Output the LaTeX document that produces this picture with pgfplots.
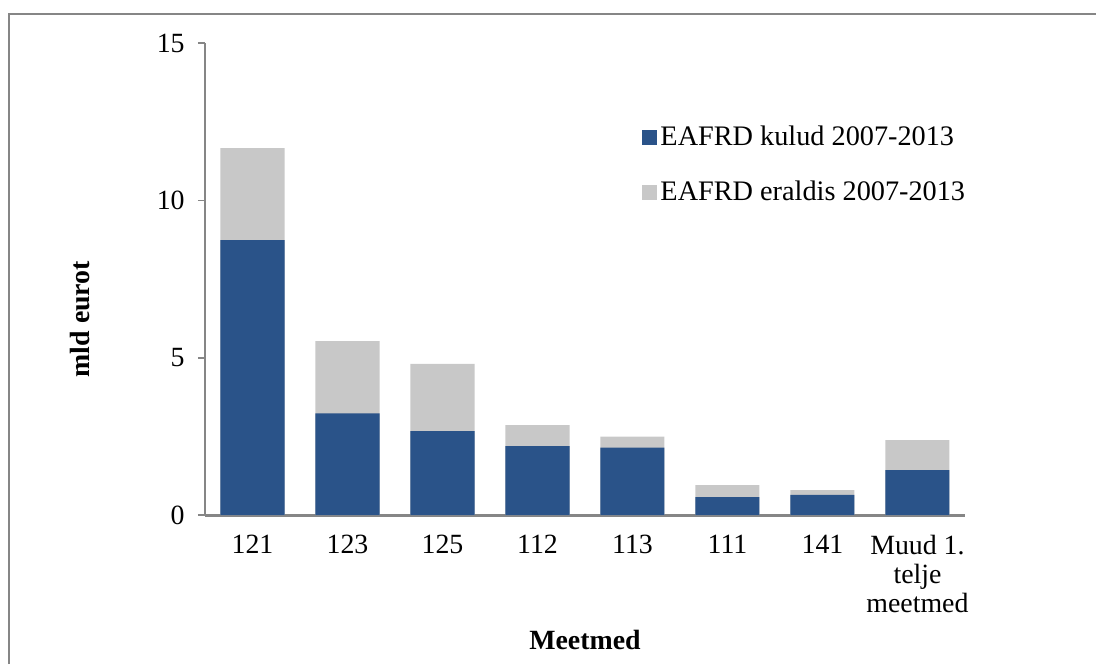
\documentclass[12pt,border=0pt]{standalone}
\usepackage{fontspec}
\setmainfont{Liberation Serif}
\usepackage{pgfplots}
\pgfplotsset{compat=1.18}
\definecolor{kulud}{HTML}{2A5389}
\definecolor{eraldis}{HTML}{C8C8C8}
\definecolor{axgray}{HTML}{868686}

\begin{document}
\begin{tikzpicture}
\begin{axis}[
    name=ax,
    scale only axis,
    width=354.9pt, height=220.4pt,
    xmin=-0.5, xmax=7.5, ymin=0, ymax=15,
    axis x line*=bottom, axis y line*=left,
    x axis line style={axgray, line width=1.4pt, -},
    y axis line style={axgray, line width=0.8pt, -},
    xtick={0,...,7},
    xticklabels={121,123,125,112,113,111,141,{Muud 1.\\telje\\meetmed}},
    x tick label style={align=center, font=\fontsize{13}{13.5}\selectfont, yshift=-2pt},
    xtick style={draw=none},
    ytick={0,5,10,15},
    y tick label style={font=\fontsize{13}{13.5}\selectfont, xshift=-2pt},
    ytick style={axgray, line width=0.8pt},
    tick align=outside, major tick length=3.3pt,
    /pgf/number format/assume math mode=true,
    ylabel={\fontsize{13}{14}\selectfont\textbf{mld eurot}},
    ylabel style={at={(axis description cs:-0.164,0.415)}, anchor=center},
    xlabel={\fontsize{13}{14}\selectfont\textbf{Meetmed}},
    xlabel style={at={(axis description cs:0.5,-0.265)}, anchor=center},
    ybar, bar width=29.9pt, bar shift=0pt,
    legend style={draw=none, fill=none, at={(axis description cs:0.574,0.832)},
        anchor=north west, row sep=11.5pt, inner sep=0pt,
        font=\fontsize{13.2}{14}\selectfont,
        nodes={inner sep=1.5pt}},
    legend cell align=left,
    legend image code/.code={\fill[#1] (0pt,-3.6pt) rectangle (7.3pt,3.6pt);},
]
\addplot[fill=eraldis, draw=none, forget plot] coordinates {
    (0,11.66) (1,5.53) (2,4.80) (3,2.86) (4,2.49) (5,0.95) (6,0.79) (7,2.38)
};
\addplot[fill=kulud, draw=none] coordinates {
    (0,8.74) (1,3.23) (2,2.67) (3,2.19) (4,2.14) (5,0.57) (6,0.64) (7,1.43)
};
\addlegendentry{EAFRD kulud 2007-2013}
\addlegendimage{fill=eraldis, draw=none}
\addlegendentry{EAFRD eraldis 2007-2013}
\end{axis}
% page = 1096 x 664 px, 1 px = 0.467 pt; axis corner sits at (205,149) px
\coordinate (pageSW) at ([shift={(-205*0.467pt,-149*0.467pt)}]ax.south west);
\useasboundingbox (pageSW) rectangle ([shift={(1096*0.467pt,664*0.467pt)}]pageSW);
% outer frame (only left and top edges visible)
\draw[axgray, line width=1pt]
    ([shift={(9*0.467pt,0pt)}]pageSW) -- ([shift={(9*0.467pt,650*0.467pt)}]pageSW)
    -- ([shift={(1096*0.467pt,650*0.467pt)}]pageSW);
\end{tikzpicture}
\end{document}
